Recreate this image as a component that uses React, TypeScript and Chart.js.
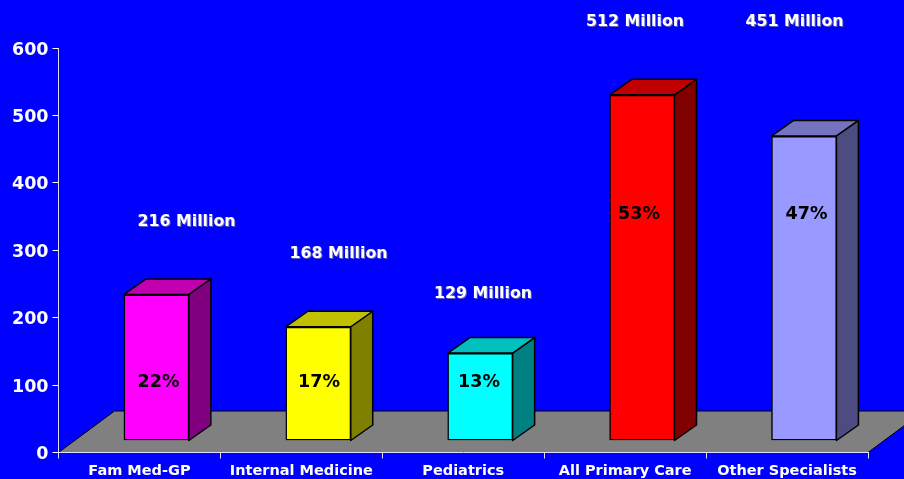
import { useEffect, useRef } from "react";
import { Chart, registerables } from "chart.js";
import type { Plugin } from "chart.js";

Chart.register(...registerables);

const categories = ["Fam Med-GP", "Internal Medicine", "Pediatrics", "All Primary Care", "Other Specialists"];
const visits = [216, 168, 129, 512, 451];
const shares = ["22%", "17%", "13%", "53%", "47%"];
const visitLabels = ["216 Million", "168 Million", "129 Million", "512 Million", "451 Million"];
const frontColors = ["#FF00FF", "#FFFF00", "#00FFFF", "#FF0000", "#9999FF"];
const topColors = ["#C000B0", "#C0C000", "#00C0C0", "#C00000", "#7373BF"];
const sideColors = ["#800080", "#808000", "#008080", "#800000", "#4C4C80"];

// Page placement of the callouts above the columns: [centre x, centre y]
const visitLabelAnchors: [number, number][] = [[186.5, 222], [338.5, 254], [483, 294], [635, 22], [794.5, 22]];
// Centre of the percentage inside each column
const shareAnchors: [number, number][] = [[158.5, 382], [319, 382], [479, 382], [639, 214], [806.5, 214]];

const FONT_FAMILY = "'DejaVu Sans', Verdana, sans-serif";
const FLOOR_DX = 56;
const FLOOR_DY = 41.5;
const BAR_SHIFT_X = 17;
const BAR_SHIFT_Y = -12;
const BAR_INFLATE = 0.5;
const DEPTH_X = 22;
const DEPTH_Y = 15.5;

function poly(ctx: CanvasRenderingContext2D, pts: number[][], fill: string, lw: number) {
  ctx.beginPath();
  pts.forEach(([x, y], i) => (i ? ctx.lineTo(x, y) : ctx.moveTo(x, y)));
  ctx.closePath();
  ctx.fillStyle = fill;
  ctx.fill();
  ctx.lineWidth = lw;
  ctx.lineJoin = "round";
  ctx.strokeStyle = "#000000";
  ctx.stroke();
}

// Floor, column sides and tops go underneath; the fronts are the chart's own bars, pushed onto the floor.
const columnsPlugin: Plugin<"bar"> = {
  id: "columns3d",
  beforeDatasetsDraw(chart) {
    const { ctx, chartArea: a } = chart;
    ctx.save();
    poly(ctx, [
      [a.left, a.bottom],
      [a.left + FLOOR_DX, a.bottom - FLOOR_DY],
      [a.right + FLOOR_DX, a.bottom - FLOOR_DY],
      [a.right, a.bottom],
    ], "#808080", 1);
    chart.getDatasetMeta(0).data.forEach((el: any, i) => {
      const half = el.width / 2;
      const l = el.x - half + BAR_SHIFT_X;
      const r = el.x + half + BAR_SHIFT_X;
      const t = el.y + BAR_SHIFT_Y - BAR_INFLATE;
      const b = el.base + BAR_SHIFT_Y + BAR_INFLATE;
      poly(ctx, [[r, t], [r + DEPTH_X, t - DEPTH_Y], [r + DEPTH_X, b - DEPTH_Y], [r, b]], sideColors[i], 1.5);
      poly(ctx, [[l, t], [l + DEPTH_X, t - DEPTH_Y], [r + DEPTH_X, t - DEPTH_Y], [r, t]], topColors[i], 1.5);
    });
    ctx.restore();
  },
  beforeDatasetDraw(chart) {
    chart.ctx.save();
    chart.ctx.translate(BAR_SHIFT_X, BAR_SHIFT_Y);
  },
  afterDatasetDraw(chart) {
    chart.ctx.restore();
  },
  afterDatasetsDraw(chart) {
    const { ctx } = chart;
    ctx.save();
    ctx.textAlign = "center";
    ctx.textBaseline = "middle";
    ctx.font = `bold 17.5px ${FONT_FAMILY}`;
    ctx.fillStyle = "#000000";
    shares.forEach((text, i) => {
      ctx.fillText(text, shareAnchors[i][0], shareAnchors[i][1]);
    });
    ctx.font = `bold 15.8px ${FONT_FAMILY}`;
    visitLabels.forEach((text, i) => {
      const [x, y] = visitLabelAnchors[i];
      ctx.fillStyle = "#6060C0";
      ctx.fillText(text, x + 1, y + 1);
      ctx.fillStyle = "#FFFFFF";
      ctx.fillText(text, x, y);
    });
    // Value axis labels, centred optically on their tick marks
    const yScale = chart.scales.y;
    ctx.textAlign = "right";
    ctx.font = `bold 17.5px ${FONT_FAMILY}`;
    ctx.fillStyle = "#FFFFFF";
    yScale.ticks.forEach((tick, i) => {
      ctx.fillText(String(tick.value), 48.5, yScale.getPixelForTick(i) + 2);
    });
    ctx.restore();
  },
};

export default function App() {
  const ref = useRef<HTMLCanvasElement>(null);

  useEffect(() => {
    document.body.style.margin = "0";
    const chart = new Chart(ref.current!, {
      type: "bar",
      data: {
        labels: categories,
        datasets: [{
          data: visits,
          backgroundColor: frontColors,
          borderColor: "#000000",
          borderWidth: 1.5,
          borderSkipped: false,
          inflateAmount: BAR_INFLATE,
          categoryPercentage: 0.4,
          barPercentage: 1,
        }],
      },
      options: {
        responsive: false,
        animation: false,
        layout: { padding: { top: 48, right: 36, bottom: 0, left: 0 } },
        plugins: { legend: { display: false }, title: { display: false }, tooltip: { enabled: false } },
        scales: {
          x: {
            afterFit: (s: any) => { s.height = 26.5; },
            grid: { drawOnChartArea: false, color: "#E0E0FF", tickLength: 6, z: 1 },
            border: { color: "#E0E0FF", width: 1, z: 1 },
            ticks: { color: "#FFFFFF", font: { family: FONT_FAMILY, size: 14.5, weight: "bold" }, padding: 4, maxRotation: 0, autoSkip: false },
          },
          y: {
            min: 0,
            max: 600,
            afterFit: (s: any) => { s.width = 58.5; },
            grid: { drawOnChartArea: false, color: "#FFFFFF", tickLength: 6, z: 1 },
            border: { color: "#E0E0FF", width: 1, z: 1 },
            ticks: { display: false, stepSize: 100 },
          },
        },
      },
      plugins: [columnsPlugin],
    });
    return () => chart.destroy();
  }, []);

  return (
    <div style={{ position: "absolute", left: 0, top: 0, width: 904, height: 479, background: "#0000FF", overflow: "hidden" }}>
      <canvas ref={ref} width={904} height={479} style={{ display: "block" }} />
    </div>
  );
}
